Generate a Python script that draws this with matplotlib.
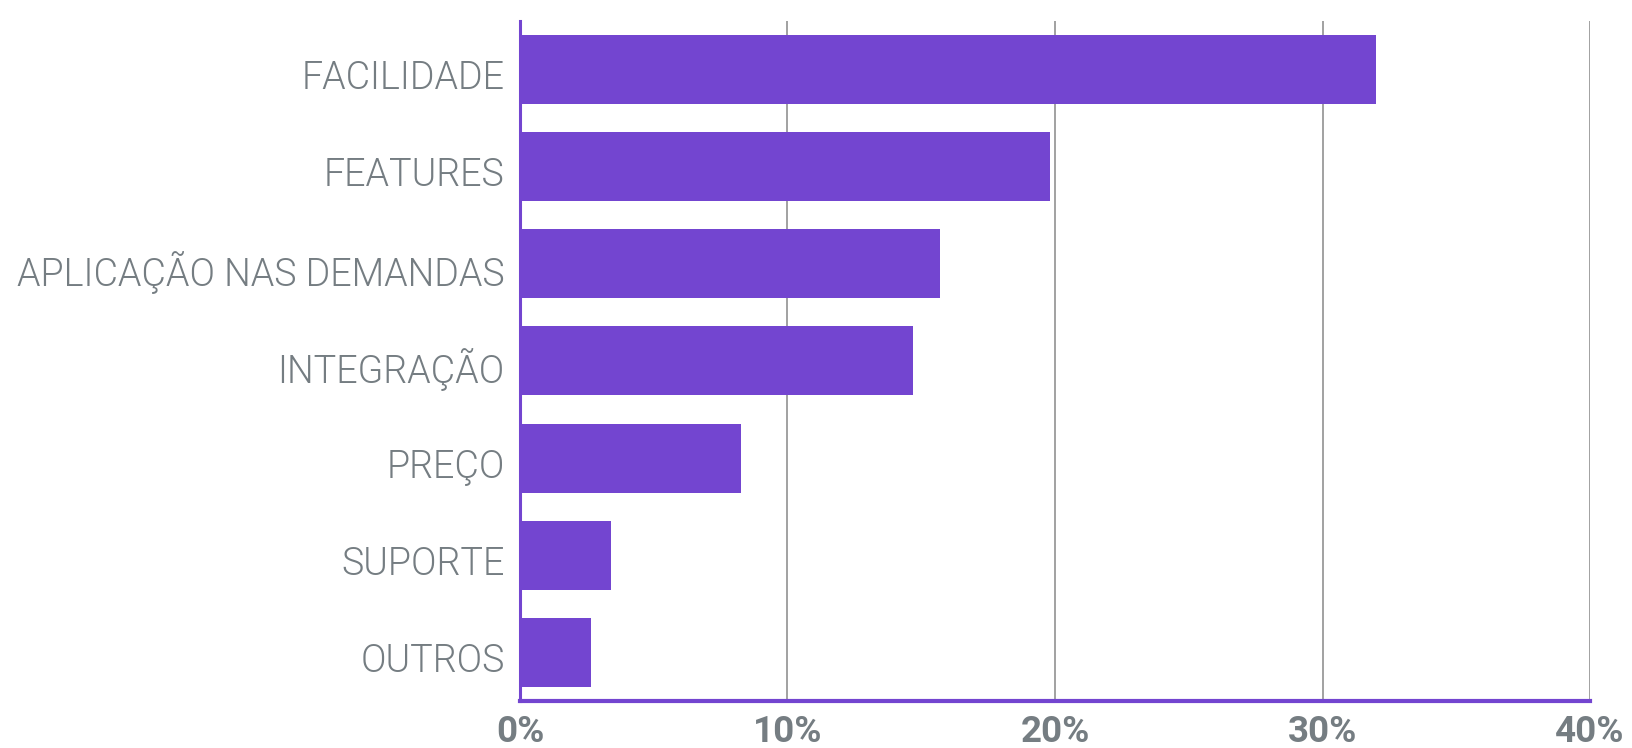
import matplotlib.pyplot as plt
import matplotlib.ticker as mticker
import matplotlib.transforms as mtransforms

# Data
categories = ['FACILIDADE', 'FEATURES', 'APLICAÇÃO NAS DEMANDAS', 'INTEGRAÇÃO',
              'PREÇO', 'SUPORTE', 'OUTROS']
values = [32.0, 19.8, 15.7, 14.7, 8.25, 3.4, 2.65]
xticks = [0, 10, 20, 30, 40]

bar_color = '#7345d0'
text_color = '#757d82'

fig = plt.figure(figsize=(16.32, 7.48), dpi=100)
ax = fig.add_axes([0.3186, 0.0628, 0.6557, 0.9092])

# Bars, top category first
ypos = list(range(len(categories)))[::-1]
ax.barh(ypos, values, height=0.71, color=bar_color, zorder=3)

ax.set_ylim(-0.5, len(categories) - 0.5)
ax.set_xlim(0, 40)

# Vertical gridlines
ax.set_xticks(xticks)
ax.xaxis.set_major_formatter(mticker.FuncFormatter(lambda v, p: '%d%%' % v))
ax.grid(axis='x', color='#9a9a9a', linewidth=1.3, zorder=1)

# Spines
for s in ['top', 'right']:
    ax.spines[s].set_visible(False)
ax.spines['left'].set_color(bar_color)
ax.spines['left'].set_linewidth(2.2)
ax.spines['left'].set_zorder(4)
ax.spines['bottom'].set_color(bar_color)
ax.spines['bottom'].set_linewidth(3)
ax.spines['bottom'].set_zorder(4)

# Tick labels
ax.set_yticks(ypos)
ax.set_yticklabels(categories, fontfamily='Roboto', fontweight=300,
                   fontsize=27.1, color=text_color)
ax.tick_params(axis='y', length=0, pad=11)
ax.tick_params(axis='x', length=0, pad=9)

# category labels sit a little below the bar centres
shift = mtransforms.ScaledTranslation(0, -5 / 100, fig.dpi_scale_trans)
for lbl in ax.get_yticklabels():
    lbl.set_transform(lbl.get_transform() + shift)

for lbl in ax.get_xticklabels():
    lbl.set_fontfamily('Roboto')
    lbl.set_fontweight('bold')
    lbl.set_fontsize(26.5)
    lbl.set_color(text_color)

fig.savefig('out.png', dpi=100, facecolor='white')
